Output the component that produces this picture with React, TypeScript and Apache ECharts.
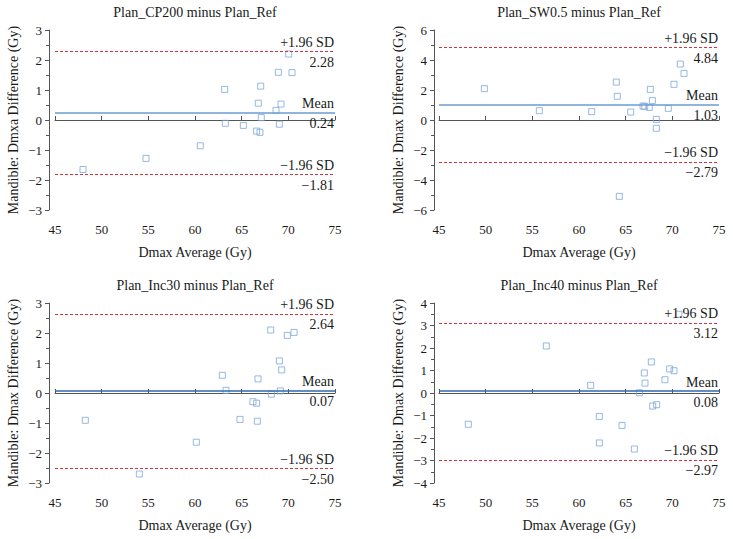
import React, { useEffect, useRef } from "react";
import * as echarts from "echarts";

// ---- data ----
const titles = [
  "Plan_CP200 minus Plan_Ref",
  "Plan_SW0.5 minus Plan_Ref",
  "Plan_Inc30 minus Plan_Ref",
  "Plan_Inc40 minus Plan_Ref",
];
const yNames = [
  "Mandible: Dmxa Difference (Gy)",
  "Mandible: Dmax Difference (Gy)",
  "Mandible: Dmax Difference (Gy)",
  "Mandible: Dmax Difference (Gy)",
];
const xName = "Dmax Average (Gy)";

const cp200Avg = [48.0, 54.75, 60.57, 63.18, 63.25, 65.18, 66.6, 66.96, 66.78, 67.04, 67.1, 68.68, 68.93, 69.21, 69.04, 70.04, 70.39];
const cp200Diff = [-1.65, -1.28, -0.86, 1.02, -0.11, -0.18, -0.37, -0.41, 0.56, 1.13, 0.08, 0.32, 1.59, 0.53, -0.14, 2.2, 1.58];

const sw05Avg = [49.86, 55.75, 61.36, 64.0, 64.1, 64.32, 65.54, 66.86, 67.04, 67.53, 67.64, 67.86, 68.29, 68.29, 69.57, 70.18, 70.86, 71.25];
const sw05Diff = [2.09, 0.62, 0.56, 2.53, 1.58, -5.09, 0.53, 0.93, 0.91, 0.84, 2.04, 1.29, 0.04, -0.55, 0.78, 2.38, 3.73, 3.11];

const inc30Avg = [48.25, 54.04, 60.14, 62.93, 63.32, 64.82, 66.21, 66.6, 66.68, 66.75, 68.11, 68.18, 69.04, 69.14, 69.29, 69.89, 70.61];
const inc30Diff = [-0.91, -2.7, -1.64, 0.59, 0.09, -0.88, -0.29, -0.34, -0.94, 0.47, 2.1, -0.04, 1.07, 0.07, 0.77, 1.92, 2.02];

const inc40Avg = [48.14, 56.5, 61.25, 62.18, 62.18, 64.61, 65.93, 66.46, 67.0, 67.07, 67.75, 67.9, 68.32, 69.21, 69.71, 70.18, 70.7];
const inc40Diff = [-1.39, 2.09, 0.34, -1.04, -2.22, -1.44, -2.49, 0.01, 0.89, 0.44, 1.38, -0.58, -0.52, 0.59, 1.07, 0.99, 3.5];

const means = [0.24, 1.03, 0.07, 0.08];
const upperLoA = [2.28, 4.84, 2.64, 3.12];
const lowerLoA = [-1.81, -2.79, -2.5, -2.97];

const yMins = [-3, -6, -3, -4];
const yMaxs = [3, 6, 3, 4];
const yIntervals = [1, 2, 1, 1];
const xMin = 45;
const xMax = 75;
const xInterval = 5;

const avgs = [cp200Avg, sw05Avg, inc30Avg, inc40Avg];
const diffs = [cp200Diff, sw05Diff, inc30Diff, inc40Diff];

// ---- layout ----
const gridPos = [
  { left: 55, top: 30 },
  { left: 439, top: 30 },
  { left: 55, top: 303 },
  { left: 439, top: 303 },
];
const GW = 280;
const GH = 180;
const yOffsets = [6, 5, 6, 5];
const meanColors = ["#6b9bd3", "#6b9bd3", "#2c69b2", "#2c69b2"];
const redColor = "#d0353c";
const FONT = "'Liberation Serif', 'Times New Roman', serif";

const minus = (s: string) => s.replace("-", "\u2212");
const fmt2 = (v: number) => minus(v.toFixed(2));

export default function App() {
  const ref = useRef<HTMLDivElement>(null);
  useEffect(() => {
    if (!ref.current) return;
    const chart = echarts.init(ref.current, undefined, { renderer: "svg" });
    const axisColor = "#555";
    const textColor = "#1a1a1a";

    const lineLabel = (top: string, bottom: string) => ({
      show: true,
      position: "insideEnd",
      formatter: "{a|" + top + "}\n{b|" + bottom + "}",
      align: "right",
      color: textColor,
      fontFamily: FONT,
      fontSize: 14,
      distance: 1,
      rich: {
        a: { fontFamily: FONT, fontSize: 14, color: textColor, lineHeight: 22, align: "right" },
        b: { fontFamily: FONT, fontSize: 14, color: textColor, lineHeight: 18, align: "right" },
      },
    });

    const option: any = {
      animation: false,
      backgroundColor: "#fff",
      title: titles.map((t, i) => ({
        text: t,
        left: gridPos[i].left + GW / 2,
        top: gridPos[i].top - 25,
        textAlign: "center",
        padding: 0,
        textStyle: { fontFamily: FONT, fontSize: 14, fontWeight: "normal", color: textColor },
      })),
      grid: gridPos.map((g) => ({ left: g.left, top: g.top, width: GW, height: GH, containLabel: false })),
      xAxis: gridPos.map((_, i) => ({
        type: "value",
        gridIndex: i,
        min: xMin,
        max: xMax,
        interval: xInterval,
        offset: 5,
        name: xName,
        nameLocation: "middle",
        nameGap: 30,
        nameTextStyle: { fontFamily: FONT, fontSize: 14, color: textColor },
        axisLine: { show: true, lineStyle: { color: axisColor, width: 1 } },
        axisTick: { show: true, inside: true, length: 4, lineStyle: { color: axisColor } },
        axisLabel: { fontFamily: FONT, fontSize: 13, color: textColor, margin: 8 },
        splitLine: { show: false },
      })),
      yAxis: gridPos.map((_, i) => ({
        type: "value",
        gridIndex: i,
        min: yMins[i],
        max: yMaxs[i],
        interval: yIntervals[i],
        offset: yOffsets[i],
        name: yNames[i],
        nameLocation: "middle",
        nameGap: 29,
        nameTextStyle: { fontFamily: FONT, fontSize: 14, color: textColor },
        axisLine: { show: true, lineStyle: { color: axisColor, width: 1 } },
        axisTick: { show: true, length: 4, lineStyle: { color: axisColor } },
        minorTick: { show: true, splitNumber: 2, length: 3, lineStyle: { color: axisColor } },
        axisLabel: {
          fontFamily: FONT,
          fontSize: 13,
          color: textColor,
          margin: 7,
          formatter: (v: number) => minus(String(v)),
        },
        splitLine: { show: false },
      })),
      series: avgs.map((xs, i) => ({
        type: "scatter",
        xAxisIndex: i,
        yAxisIndex: i,
        symbol: "rect",
        symbolSize: 6,
        itemStyle: { color: "transparent", borderColor: "#7ea6dc", borderWidth: 1 },
        data: xs.map((x, k) => [x, diffs[i][k]]),
        markLine: {
          silent: true,
          symbol: "none",
          animation: false,
          data: [
            {
              yAxis: upperLoA[i],
              lineStyle: { color: redColor, type: [3, 2], width: 1.2 },
              label: lineLabel("+1.96 SD", fmt2(upperLoA[i])),
            },
            {
              yAxis: means[i],
              lineStyle: { color: meanColors[i], type: "solid", width: 1.5 },
              label: lineLabel("Mean", fmt2(means[i])),
            },
            {
              yAxis: lowerLoA[i],
              lineStyle: { color: redColor, type: [3, 2], width: 1.2 },
              label: lineLabel("\u22121.96 SD", fmt2(lowerLoA[i])),
            },
          ],
        },
      })),
    };
    chart.setOption(option);
    return () => chart.dispose();
  }, []);
  return (
    <div
      ref={ref}
      style={{ position: "fixed", left: 0, top: 0, width: 733, height: 539, background: "#fff" }}
    />
  );
}
